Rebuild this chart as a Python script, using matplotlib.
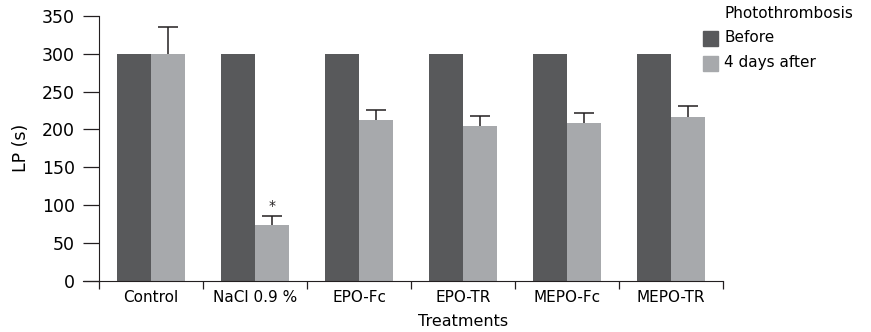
import matplotlib
matplotlib.use("Agg")
import matplotlib.pyplot as plt
import matplotlib.patches as mpatches
import numpy as np

plt.rcParams["font.family"] = ["DejaVu Sans"]

# values
treatments = ["Control", "NaCl 0.9 %", "EPO-Fc", "EPO-TR", "MEPO-Fc", "MEPO-TR"]
before = [300, 300, 300, 300, 300, 300]
after = [300, 73, 212, 204, 208, 216]
after_err = [35, 12, 13, 14, 13, 15]
star_y = 98
legend_labels = ["Before", "4 days after"]

DARK = "#58595b"
LIGHT = "#a7a9ac"
INK = "#231f20"

fig = plt.figure(figsize=(8.71, 3.32), dpi=100)
ax = fig.add_axes([83 / 871, 1 - 280.5 / 332, (723 - 83) / 871, (280.5 - 16) / 332])

x = np.arange(len(treatments))
w = 0.33
ax.bar(x - w / 2, before, w, color=DARK, zorder=2)
ax.bar(x + w / 2, after, w, color=LIGHT, zorder=2)
eb = ax.errorbar(x + w / 2, after, yerr=[np.zeros(len(after)), after_err], fmt="none",
                 ecolor=INK, elinewidth=1.1, capsize=7.5, capthick=1.1, zorder=3)
eb[1][0].set_visible(False)  # hide the lower caps, only upper error shown
ax.text(x[1] + w / 2, star_y, "*", ha="center", va="center", fontsize=10, color=INK)

step = 104.0
ax.set_xlim(-0.5 - 16 / step, 5.5)
ax.set_ylim(0, 350)

for s in ["top", "right"]:
    ax.spines[s].set_visible(False)
ax.spines["left"].set_position(("data", -0.5))
ax.spines["left"].set_color(INK)
ax.spines["bottom"].set_color(INK)

ax.set_yticks(range(0, 351, 50))
ax.tick_params(axis="y", length=11.5, width=0.9, color=INK, labelsize=12.5, pad=6)
ax.set_xticks(np.arange(-0.5, 6, 1.0))
ax.set_xticklabels([])
ax.tick_params(axis="x", which="major", length=6, width=0.9, color=INK)
ax.set_xticks(x, minor=True)
ax.set_xticklabels(treatments, minor=True)
ax.tick_params(axis="x", which="minor", length=0, labelsize=11, pad=7)

ax.set_ylabel("LP (s)", fontsize=12.5)
ax.yaxis.set_label_coords((30 - 83) / 640, 0.5)
ax.set_xlabel("Treatments", fontsize=11.5)
ax.xaxis.set_label_coords((3.0 + 0.5 + 16 / step) / (6 + 16 / step), -0.125)

# legend drawn by hand to match the reference layout
fig.text(724 / 871, 1 - 13 / 332, "Photothrombosis", fontsize=11, va="center", ha="left")
for i, (lab, col) in enumerate(zip(legend_labels, [DARK, LIGHT])):
    yc = 38 + 25 * i
    fig.patches.append(mpatches.Rectangle((703 / 871, 1 - (yc + 7.5) / 332), 15 / 871, 15 / 332,
                                          transform=fig.transFigure, color=col))
    fig.text(724 / 871, 1 - yc / 332, lab, fontsize=11, va="center", ha="left")

fig.savefig("out.png", dpi=100)
